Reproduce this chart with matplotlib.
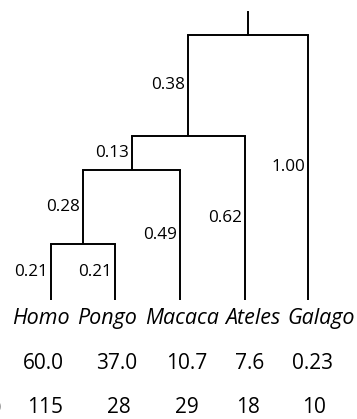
import numpy as np
import matplotlib
matplotlib.use("Agg")
import matplotlib.pyplot as plt

plt.rcParams['font.family'] = ['Open Sans', 'DejaVu Sans']

# tip taxa and the two rows of numbers under them
taxa = ['Homo', 'Pongo', 'Macaca', 'Ateles', 'Galago']
row1 = ['60.0', '37.0', '10.7', '7.6', '0.23']
row2 = ['115', '28', '29', '18', '10']

# tree: (child a, child b, length to a, length to b); tips are 0..4
# internal nodes numbered 5, 6, 7, 8 in order of this list
joins = [(0, 1, 0.21, 0.21),
         (5, 2, 0.28, 0.49),
         (6, 3, 0.13, 0.62),
         (7, 4, 0.38, 1.00)]

# layout, all in pixels of a 357x419 canvas
W, H = 357, 419
tip_x = np.array([51, 115, 180, 245, 308])
tip_y = 300.0
px_per_unit = 265.3
stem_top = 12

fig = plt.figure(figsize=(W / 100, H / 100), dpi=100)
ax = fig.add_axes([0, 0, 1, 1])
ax.set_xlim(0, W)
ax.set_ylim(H, 0)
ax.axis('off')

lw = 1.4
node_x = list(tip_x.astype(float))
node_d = [0.0] * len(taxa)  # depth above the tips, in branch length units
for a, b, la, lb in joins:
    d = node_d[a] + la
    x = (node_x[a] + node_x[b]) / 2
    node_x.append(x)
    node_d.append(d)
    y = tip_y - d * px_per_unit
    ax.plot([node_x[a], node_x[b]], [y, y], color='black', lw=lw,
            solid_capstyle='projecting')
    for c, l in ((a, la), (b, lb)):
        yc = tip_y - node_d[c] * px_per_unit
        ax.plot([node_x[c], node_x[c]], [yc, y], color='black', lw=lw,
                solid_capstyle='butt')
        ax.text(node_x[c] - 3, (yc + y) / 2, '{:.2f}'.format(l),
                ha='right', va='center', fontsize=12.3)

# stem above the root
ax.plot([node_x[-1], node_x[-1]], [stem_top, tip_y - node_d[-1] * px_per_unit],
        color='black', lw=lw)

name_x = [41, 107, 182.5, 253, 321]
row1_x = [43, 117, 187, 250, 312.5]
row2_x = [45, 118.5, 187, 248.5, 313.5]
for i in range(len(taxa)):
    ax.text(name_x[i], 318, taxa[i], ha='center', va='center',
            fontsize=15.5, style='italic')
    ax.text(row1_x[i], 363, row1[i], ha='center', va='center', fontsize=15)
    ax.text(row2_x[i], 407, row2[i], ha='center', va='center', fontsize=15)

# end of a row label cut off at the left edge
ax.text(1, 407, ')', ha='right', va='center', fontsize=15, clip_on=False)

fig.savefig('out.png', dpi=100)
